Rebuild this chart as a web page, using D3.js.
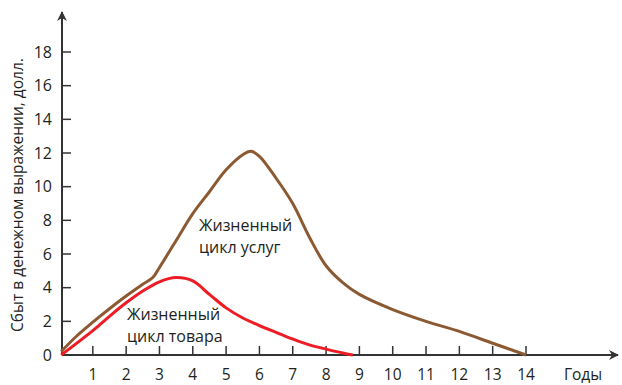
<!DOCTYPE html>
<html>
<head>
<meta charset="utf-8">
<script src="https://cdn.jsdelivr.net/npm/d3@7"></script>
<style>
  body { margin: 0; background: #fff; }
  text { font-family: "Open Sans", "Noto Sans", sans-serif; fill: #231f20; }
</style>
</head>
<body>
<div id="chart"></div>
<script>
// years on the x axis, sales on the y axis
const xTicks = [1, 2, 3, 4, 5, 6, 7, 8, 9, 10, 11, 12, 13, 14];
const yTicks = [0, 2, 4, 6, 8, 10, 12, 14, 16, 18];

// service life cycle (brown)
const serviceYears = [0.05, 0.5, 1, 1.5, 2, 2.5, 2.8, 3, 3.5, 4, 4.5, 5, 5.5, 5.75, 6, 6.5, 7, 7.5, 8, 8.5, 9, 10, 11, 12, 13, 14];
const serviceSales = [0.2, 1.1, 1.95, 2.75, 3.5, 4.2, 4.6, 5.2, 6.8, 8.4, 9.7, 11.0, 11.9, 12.1, 11.8, 10.5, 9.0, 7.0, 5.3, 4.3, 3.6, 2.7, 2.0, 1.4, 0.7, 0];

// product life cycle (red)
const productYears = [0.05, 1, 1.5, 2, 2.5, 3, 3.5, 4, 4.5, 5, 5.5, 6, 6.5, 7, 7.5, 8, 8.5, 8.8];
const productSales = [0, 1.45, 2.3, 3.1, 3.8, 4.35, 4.6, 4.4, 3.6, 2.8, 2.2, 1.75, 1.35, 0.95, 0.6, 0.35, 0.12, 0];

const width = 622;
const height = 385;

const svg = d3.select("#chart").append("svg")
    .attr("width", width)
    .attr("height", height);

const x = d3.scaleLinear().domain([0, 14]).range([59.5, 526]);
const y = d3.scaleLinear().domain([0, 18]).range([355, 52]);

const axisColor = "#333";
const axisX0 = 62;

// arrow marker
svg.append("defs").append("marker")
    .attr("id", "arrow")
    .attr("viewBox", "0 0 10 10")
    .attr("refX", 9).attr("refY", 5)
    .attr("markerWidth", 10).attr("markerHeight", 10)
    .attr("markerUnits", "userSpaceOnUse")
    .attr("orient", "auto")
    .append("path")
    .attr("d", "M0,0 L10,5 L0,10 L3,5 Z")
    .attr("fill", axisColor);

// y axis line
svg.append("line")
    .attr("x1", axisX0).attr("x2", axisX0)
    .attr("y1", y(0)).attr("y2", 12)
    .attr("stroke", axisColor).attr("stroke-width", 2)
    .attr("marker-end", "url(#arrow)");

// x axis line
svg.append("line")
    .attr("x1", axisX0).attr("x2", 618)
    .attr("y1", y(0)).attr("y2", y(0))
    .attr("stroke", axisColor).attr("stroke-width", 2)
    .attr("marker-end", "url(#arrow)");

// y ticks
const yAxis = svg.append("g");
yAxis.selectAll("line").data(yTicks.filter(d => d > 0)).enter().append("line")
    .attr("x1", axisX0).attr("x2", axisX0 + 9)
    .attr("y1", d => y(d)).attr("y2", d => y(d))
    .attr("stroke", axisColor).attr("stroke-width", 1.5);
yAxis.selectAll("text").data(yTicks).enter().append("text")
    .attr("x", 52).attr("y", d => y(d))
    .attr("dy", "0.35em")
    .attr("text-anchor", "end")
    .attr("font-size", 16)
    .text(d => d);

// x ticks
const xAxis = svg.append("g");
xAxis.selectAll("line").data(xTicks).enter().append("line")
    .attr("x1", d => x(d)).attr("x2", d => x(d))
    .attr("y1", y(0)).attr("y2", y(0) - 9)
    .attr("stroke", axisColor).attr("stroke-width", 1.5);
xAxis.selectAll("text").data(xTicks).enter().append("text")
    .attr("x", d => x(d)).attr("y", 380)
    .attr("text-anchor", "middle")
    .attr("font-size", 15.5)
    .text(d => d);

svg.append("text")
    .attr("x", 583).attr("y", 380)
    .attr("text-anchor", "middle")
    .attr("font-size", 15.5)
    .text("Годы");

svg.append("text")
    .attr("transform", "translate(23,195) rotate(-90)")
    .attr("text-anchor", "middle")
    .attr("font-size", 15.5)
    .text("Сбыт в денежном выражении, долл.");

// curves
const line = d3.line()
    .x(d => x(d[0]))
    .y(d => y(d[1]))
    .curve(d3.curveCatmullRom.alpha(0.5));

svg.append("path")
    .datum(serviceYears.map((d, i) => [d, serviceSales[i]]))
    .attr("d", line)
    .attr("fill", "none")
    .attr("stroke", "#8b5a33")
    .attr("stroke-width", 3);

svg.append("path")
    .datum(productYears.map((d, i) => [d, productSales[i]]))
    .attr("d", line)
    .attr("fill", "none")
    .attr("stroke", "#ee1c25")
    .attr("stroke-width", 3);

// curve labels
const labels = [
  { x: 199, y: 231, lines: ["Жизненный", "цикл услуг"] },
  { x: 127, y: 320, lines: ["Жизненный", "цикл товара"] }
];
labels.forEach(l => {
  l.lines.forEach((t, i) => {
    svg.append("text")
      .attr("x", l.x).attr("y", l.y + i * 22)
      .attr("font-size", 16)
      .text(t);
  });
});
</script>
</body>
</html>
